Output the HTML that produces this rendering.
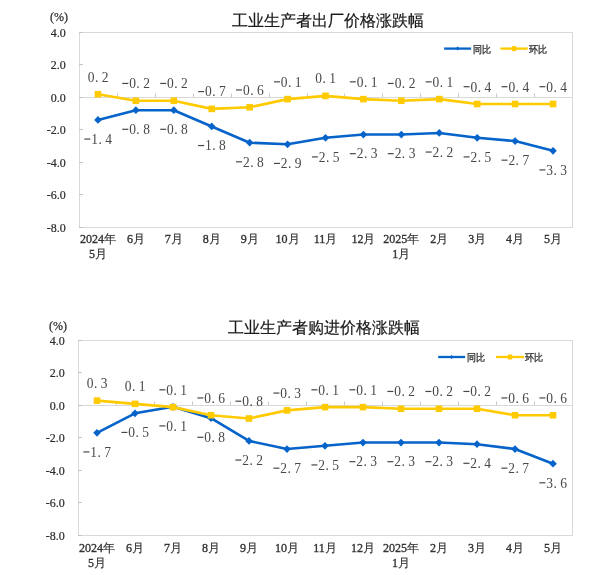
<!DOCTYPE html>
<html><head><meta charset="utf-8"><style>
html,body{margin:0;padding:0;background:#fff;}
svg{display:block;will-change:transform;}
.ax{font-family:"Liberation Serif",serif;font-size:12px;fill:#2a2a2a;stroke:#2a2a2a;stroke-width:0.2px;}
.xl{font-family:"Liberation Serif",serif;font-size:12px;font-weight:normal;fill:#333;stroke:#333;stroke-width:0.35px;}
.tt{font-family:"Liberation Sans",sans-serif;font-size:16px;fill:#1a1a1a;stroke:#1a1a1a;stroke-width:0.2px;}
.lg{font-family:"Liberation Sans",sans-serif;font-size:9.5px;fill:#333;stroke:#333;stroke-width:0.3px;}
.cj{font-weight:normal;stroke:#333;stroke-width:0.15px;}
.dl{font-family:"Liberation Serif",serif;font-size:13.5px;fill:#484848;}
</style></head><body>
<svg width="612" height="575" viewBox="0 0 612 575">
<rect width="612" height="575" fill="#fff"/>
<rect x="79.5" y="32.5" width="493" height="195" fill="none" stroke="#D9D9D9" stroke-width="1"/>
<line x1="79" y1="97.5" x2="572" y2="97.5" stroke="#D9D9D9" stroke-width="1"/>
<line x1="79" y1="32.5" x2="83" y2="32.5" stroke="#C4C4C4" stroke-width="1"/>
<text x="65.80" y="36.50" class="ax" text-anchor="end">4.0</text>
<line x1="79" y1="64.5" x2="83" y2="64.5" stroke="#C4C4C4" stroke-width="1"/>
<text x="65.80" y="69.00" class="ax" text-anchor="end">2.0</text>
<line x1="79" y1="97.5" x2="83" y2="97.5" stroke="#C4C4C4" stroke-width="1"/>
<text x="65.80" y="101.50" class="ax" text-anchor="end">0.0</text>
<line x1="79" y1="129.5" x2="83" y2="129.5" stroke="#C4C4C4" stroke-width="1"/>
<text x="65.80" y="134.00" class="ax" text-anchor="end">-2.0</text>
<line x1="79" y1="162.5" x2="83" y2="162.5" stroke="#C4C4C4" stroke-width="1"/>
<text x="65.80" y="166.50" class="ax" text-anchor="end">-4.0</text>
<line x1="79" y1="194.5" x2="83" y2="194.5" stroke="#C4C4C4" stroke-width="1"/>
<text x="65.80" y="199.00" class="ax" text-anchor="end">-6.0</text>
<line x1="79" y1="227.5" x2="83" y2="227.5" stroke="#C4C4C4" stroke-width="1"/>
<text x="65.80" y="231.50" class="ax" text-anchor="end">-8.0</text>
<line x1="117.5" y1="93.5" x2="117.5" y2="97.0" stroke="#C8C8C8" stroke-width="1"/>
<line x1="155.5" y1="93.5" x2="155.5" y2="97.0" stroke="#C8C8C8" stroke-width="1"/>
<line x1="193.5" y1="93.5" x2="193.5" y2="97.0" stroke="#C8C8C8" stroke-width="1"/>
<line x1="231.5" y1="93.5" x2="231.5" y2="97.0" stroke="#C8C8C8" stroke-width="1"/>
<line x1="269.5" y1="93.5" x2="269.5" y2="97.0" stroke="#C8C8C8" stroke-width="1"/>
<line x1="307.5" y1="93.5" x2="307.5" y2="97.0" stroke="#C8C8C8" stroke-width="1"/>
<line x1="344.5" y1="93.5" x2="344.5" y2="97.0" stroke="#C8C8C8" stroke-width="1"/>
<line x1="382.5" y1="93.5" x2="382.5" y2="97.0" stroke="#C8C8C8" stroke-width="1"/>
<line x1="420.5" y1="93.5" x2="420.5" y2="97.0" stroke="#C8C8C8" stroke-width="1"/>
<line x1="458.5" y1="93.5" x2="458.5" y2="97.0" stroke="#C8C8C8" stroke-width="1"/>
<line x1="496.5" y1="93.5" x2="496.5" y2="97.0" stroke="#C8C8C8" stroke-width="1"/>
<line x1="534.5" y1="93.5" x2="534.5" y2="97.0" stroke="#C8C8C8" stroke-width="1"/>
<text x="97.96" y="243.30" class="xl" text-anchor="middle">2024<tspan class="cj">年</tspan></text>
<text x="97.96" y="258.30" class="xl" text-anchor="middle">5<tspan class="cj">月</tspan></text>
<text x="135.88" y="243.30" class="xl" text-anchor="middle">6<tspan class="cj">月</tspan></text>
<text x="173.81" y="243.30" class="xl" text-anchor="middle">7<tspan class="cj">月</tspan></text>
<text x="211.73" y="243.30" class="xl" text-anchor="middle">8<tspan class="cj">月</tspan></text>
<text x="249.65" y="243.30" class="xl" text-anchor="middle">9<tspan class="cj">月</tspan></text>
<text x="287.58" y="243.30" class="xl" text-anchor="middle">10<tspan class="cj">月</tspan></text>
<text x="325.50" y="243.30" class="xl" text-anchor="middle">11<tspan class="cj">月</tspan></text>
<text x="363.42" y="243.30" class="xl" text-anchor="middle">12<tspan class="cj">月</tspan></text>
<text x="401.35" y="243.30" class="xl" text-anchor="middle">2025<tspan class="cj">年</tspan></text>
<text x="401.35" y="258.30" class="xl" text-anchor="middle">1<tspan class="cj">月</tspan></text>
<text x="439.27" y="243.30" class="xl" text-anchor="middle">2<tspan class="cj">月</tspan></text>
<text x="477.19" y="243.30" class="xl" text-anchor="middle">3<tspan class="cj">月</tspan></text>
<text x="515.12" y="243.30" class="xl" text-anchor="middle">4<tspan class="cj">月</tspan></text>
<text x="553.04" y="243.30" class="xl" text-anchor="middle">5<tspan class="cj">月</tspan></text>
<text x="327.9" y="26" class="tt" text-anchor="middle">工业生产者出厂价格涨跌幅</text>
<text x="59" y="21" class="ax" style="stroke:#333;stroke-width:0.25px" text-anchor="middle">(%)</text>
<line x1="444.1" y1="48.6" x2="471.1" y2="48.6" stroke="#0563C9" stroke-width="2.3"/>
<path d="M455.6,48.6 L457.6,46.6 L459.6,48.6 L457.6,50.6Z" fill="#0563C9"/>
<text transform="translate(472.7,52.5) scale(0.95,1.05)" class="lg">同比</text>
<line x1="500.4" y1="48.6" x2="527.7" y2="48.6" stroke="#FFCA00" stroke-width="2.3"/>
<rect x="511.84999999999997" y="46.1" width="4.4" height="5" fill="#FFCA00"/>
<text transform="translate(528.8,52.5) scale(0.95,1.05)" class="lg">环比</text>
<polyline points="97.96,119.95 135.88,110.20 173.81,110.20 211.73,126.45 249.65,142.70 287.58,144.32 325.50,137.82 363.42,134.57 401.35,134.57 439.27,132.95 477.19,137.82 515.12,141.07 553.04,150.82" fill="none" stroke="#0563C9" stroke-width="2.6" stroke-linejoin="round"/>
<path d="M94.16,119.95 L97.96,116.05 L101.76,119.95 L97.96,123.85Z" fill="#0563C9"/>
<path d="M132.08,110.20 L135.88,106.30 L139.68,110.20 L135.88,114.10Z" fill="#0563C9"/>
<path d="M170.01,110.20 L173.81,106.30 L177.61,110.20 L173.81,114.10Z" fill="#0563C9"/>
<path d="M207.93,126.45 L211.73,122.55 L215.53,126.45 L211.73,130.35Z" fill="#0563C9"/>
<path d="M245.85,142.70 L249.65,138.80 L253.45,142.70 L249.65,146.60Z" fill="#0563C9"/>
<path d="M283.78,144.32 L287.58,140.42 L291.38,144.32 L287.58,148.22Z" fill="#0563C9"/>
<path d="M321.70,137.82 L325.50,133.92 L329.30,137.82 L325.50,141.72Z" fill="#0563C9"/>
<path d="M359.62,134.57 L363.42,130.67 L367.22,134.57 L363.42,138.47Z" fill="#0563C9"/>
<path d="M397.55,134.57 L401.35,130.67 L405.15,134.57 L401.35,138.47Z" fill="#0563C9"/>
<path d="M435.47,132.95 L439.27,129.05 L443.07,132.95 L439.27,136.85Z" fill="#0563C9"/>
<path d="M473.39,137.82 L477.19,133.92 L480.99,137.82 L477.19,141.72Z" fill="#0563C9"/>
<path d="M511.32,141.07 L515.12,137.17 L518.92,141.07 L515.12,144.97Z" fill="#0563C9"/>
<path d="M549.24,150.82 L553.04,146.92 L556.84,150.82 L553.04,154.72Z" fill="#0563C9"/>
<polyline points="97.96,94.25 135.88,100.75 173.81,100.75 211.73,108.88 249.65,107.25 287.58,99.12 325.50,95.88 363.42,99.12 401.35,100.75 439.27,99.12 477.19,104.00 515.12,104.00 553.04,104.00" fill="none" stroke="#FFCA00" stroke-width="2.6" stroke-linejoin="round"/>
<rect x="94.66" y="90.95" width="6.6" height="6.6" fill="#FFCA00"/>
<rect x="132.58" y="97.45" width="6.6" height="6.6" fill="#FFCA00"/>
<rect x="170.51" y="97.45" width="6.6" height="6.6" fill="#FFCA00"/>
<rect x="208.43" y="105.58" width="6.6" height="6.6" fill="#FFCA00"/>
<rect x="246.35" y="103.95" width="6.6" height="6.6" fill="#FFCA00"/>
<rect x="284.28" y="95.83" width="6.6" height="6.6" fill="#FFCA00"/>
<rect x="322.20" y="92.58" width="6.6" height="6.6" fill="#FFCA00"/>
<rect x="360.12" y="95.83" width="6.6" height="6.6" fill="#FFCA00"/>
<rect x="398.05" y="97.45" width="6.6" height="6.6" fill="#FFCA00"/>
<rect x="435.97" y="95.83" width="6.6" height="6.6" fill="#FFCA00"/>
<rect x="473.89" y="100.70" width="6.6" height="6.6" fill="#FFCA00"/>
<rect x="511.82" y="100.70" width="6.6" height="6.6" fill="#FFCA00"/>
<rect x="549.74" y="100.70" width="6.6" height="6.6" fill="#FFCA00"/>
<text transform="translate(87.46,81.75) scale(1,1.02)" x="0.30 7.50 14.30" y="0" class="dl">0.2</text>
<line x1="122.28" y1="83.45" x2="128.28" y2="83.45" stroke="#484848" stroke-width="1.2"/>
<text transform="translate(121.88,88.25) scale(1,1.02)" x="7.30 14.50 21.30" y="0" class="dl">0.2</text>
<line x1="160.21" y1="83.45" x2="166.21" y2="83.45" stroke="#484848" stroke-width="1.2"/>
<text transform="translate(159.81,88.25) scale(1,1.02)" x="7.30 14.50 21.30" y="0" class="dl">0.2</text>
<line x1="198.13" y1="91.58" x2="204.13" y2="91.58" stroke="#484848" stroke-width="1.2"/>
<text transform="translate(197.73,96.38) scale(1,1.02)" x="7.30 14.50 21.30" y="0" class="dl">0.7</text>
<line x1="236.05" y1="89.95" x2="242.05" y2="89.95" stroke="#484848" stroke-width="1.2"/>
<text transform="translate(235.65,94.75) scale(1,1.02)" x="7.30 14.50 21.30" y="0" class="dl">0.6</text>
<line x1="273.98" y1="81.83" x2="279.98" y2="81.83" stroke="#484848" stroke-width="1.2"/>
<text transform="translate(273.58,86.62) scale(1,1.02)" x="7.30 14.50 21.30" y="0" class="dl">0.1</text>
<text transform="translate(315.00,83.38) scale(1,1.02)" x="0.30 7.50 14.30" y="0" class="dl">0.1</text>
<line x1="349.82" y1="81.83" x2="355.82" y2="81.83" stroke="#484848" stroke-width="1.2"/>
<text transform="translate(349.42,86.62) scale(1,1.02)" x="7.30 14.50 21.30" y="0" class="dl">0.1</text>
<line x1="387.75" y1="83.45" x2="393.75" y2="83.45" stroke="#484848" stroke-width="1.2"/>
<text transform="translate(387.35,88.25) scale(1,1.02)" x="7.30 14.50 21.30" y="0" class="dl">0.2</text>
<line x1="425.67" y1="81.83" x2="431.67" y2="81.83" stroke="#484848" stroke-width="1.2"/>
<text transform="translate(425.27,86.62) scale(1,1.02)" x="7.30 14.50 21.30" y="0" class="dl">0.1</text>
<line x1="463.59" y1="86.70" x2="469.59" y2="86.70" stroke="#484848" stroke-width="1.2"/>
<text transform="translate(463.19,91.50) scale(1,1.02)" x="7.30 14.50 21.30" y="0" class="dl">0.4</text>
<line x1="501.52" y1="86.70" x2="507.52" y2="86.70" stroke="#484848" stroke-width="1.2"/>
<text transform="translate(501.12,91.50) scale(1,1.02)" x="7.30 14.50 21.30" y="0" class="dl">0.4</text>
<line x1="539.44" y1="86.70" x2="545.44" y2="86.70" stroke="#484848" stroke-width="1.2"/>
<text transform="translate(539.04,91.50) scale(1,1.02)" x="7.30 14.50 21.30" y="0" class="dl">0.4</text>
<line x1="84.36" y1="139.05" x2="90.36" y2="139.05" stroke="#484848" stroke-width="1.2"/>
<text transform="translate(83.96,143.85) scale(1,1.02)" x="7.30 14.50 21.30" y="0" class="dl">1.4</text>
<line x1="122.28" y1="129.30" x2="128.28" y2="129.30" stroke="#484848" stroke-width="1.2"/>
<text transform="translate(121.88,134.10) scale(1,1.02)" x="7.30 14.50 21.30" y="0" class="dl">0.8</text>
<line x1="160.21" y1="129.30" x2="166.21" y2="129.30" stroke="#484848" stroke-width="1.2"/>
<text transform="translate(159.81,134.10) scale(1,1.02)" x="7.30 14.50 21.30" y="0" class="dl">0.8</text>
<line x1="198.13" y1="145.55" x2="204.13" y2="145.55" stroke="#484848" stroke-width="1.2"/>
<text transform="translate(197.73,150.35) scale(1,1.02)" x="7.30 14.50 21.30" y="0" class="dl">1.8</text>
<line x1="236.05" y1="161.80" x2="242.05" y2="161.80" stroke="#484848" stroke-width="1.2"/>
<text transform="translate(235.65,166.60) scale(1,1.02)" x="7.30 14.50 21.30" y="0" class="dl">2.8</text>
<line x1="273.98" y1="163.42" x2="279.98" y2="163.42" stroke="#484848" stroke-width="1.2"/>
<text transform="translate(273.58,168.22) scale(1,1.02)" x="7.30 14.50 21.30" y="0" class="dl">2.9</text>
<line x1="311.90" y1="156.92" x2="317.90" y2="156.92" stroke="#484848" stroke-width="1.2"/>
<text transform="translate(311.50,161.72) scale(1,1.02)" x="7.30 14.50 21.30" y="0" class="dl">2.5</text>
<line x1="349.82" y1="153.67" x2="355.82" y2="153.67" stroke="#484848" stroke-width="1.2"/>
<text transform="translate(349.42,158.47) scale(1,1.02)" x="7.30 14.50 21.30" y="0" class="dl">2.3</text>
<line x1="387.75" y1="153.67" x2="393.75" y2="153.67" stroke="#484848" stroke-width="1.2"/>
<text transform="translate(387.35,158.47) scale(1,1.02)" x="7.30 14.50 21.30" y="0" class="dl">2.3</text>
<line x1="425.67" y1="152.05" x2="431.67" y2="152.05" stroke="#484848" stroke-width="1.2"/>
<text transform="translate(425.27,156.85) scale(1,1.02)" x="7.30 14.50 21.30" y="0" class="dl">2.2</text>
<line x1="463.59" y1="156.92" x2="469.59" y2="156.92" stroke="#484848" stroke-width="1.2"/>
<text transform="translate(463.19,161.72) scale(1,1.02)" x="7.30 14.50 21.30" y="0" class="dl">2.5</text>
<line x1="501.52" y1="160.17" x2="507.52" y2="160.17" stroke="#484848" stroke-width="1.2"/>
<text transform="translate(501.12,164.97) scale(1,1.02)" x="7.30 14.50 21.30" y="0" class="dl">2.7</text>
<line x1="539.44" y1="169.92" x2="545.44" y2="169.92" stroke="#484848" stroke-width="1.2"/>
<text transform="translate(539.04,174.72) scale(1,1.02)" x="7.30 14.50 21.30" y="0" class="dl">3.3</text>
<rect x="78.5" y="340.5" width="494" height="195" fill="none" stroke="#D9D9D9" stroke-width="1"/>
<line x1="78" y1="405.5" x2="572" y2="405.5" stroke="#D9D9D9" stroke-width="1"/>
<line x1="78" y1="340.5" x2="82" y2="340.5" stroke="#C4C4C4" stroke-width="1"/>
<text x="64.80" y="344.50" class="ax" text-anchor="end">4.0</text>
<line x1="78" y1="372.5" x2="82" y2="372.5" stroke="#C4C4C4" stroke-width="1"/>
<text x="64.80" y="377.00" class="ax" text-anchor="end">2.0</text>
<line x1="78" y1="405.5" x2="82" y2="405.5" stroke="#C4C4C4" stroke-width="1"/>
<text x="64.80" y="409.50" class="ax" text-anchor="end">0.0</text>
<line x1="78" y1="437.5" x2="82" y2="437.5" stroke="#C4C4C4" stroke-width="1"/>
<text x="64.80" y="442.00" class="ax" text-anchor="end">-2.0</text>
<line x1="78" y1="470.5" x2="82" y2="470.5" stroke="#C4C4C4" stroke-width="1"/>
<text x="64.80" y="474.50" class="ax" text-anchor="end">-4.0</text>
<line x1="78" y1="502.5" x2="82" y2="502.5" stroke="#C4C4C4" stroke-width="1"/>
<text x="64.80" y="507.00" class="ax" text-anchor="end">-6.0</text>
<line x1="78" y1="535.5" x2="82" y2="535.5" stroke="#C4C4C4" stroke-width="1"/>
<text x="64.80" y="539.50" class="ax" text-anchor="end">-8.0</text>
<line x1="116.5" y1="401.5" x2="116.5" y2="405.0" stroke="#C8C8C8" stroke-width="1"/>
<line x1="154.5" y1="401.5" x2="154.5" y2="405.0" stroke="#C8C8C8" stroke-width="1"/>
<line x1="192.5" y1="401.5" x2="192.5" y2="405.0" stroke="#C8C8C8" stroke-width="1"/>
<line x1="230.5" y1="401.5" x2="230.5" y2="405.0" stroke="#C8C8C8" stroke-width="1"/>
<line x1="268.5" y1="401.5" x2="268.5" y2="405.0" stroke="#C8C8C8" stroke-width="1"/>
<line x1="306.5" y1="401.5" x2="306.5" y2="405.0" stroke="#C8C8C8" stroke-width="1"/>
<line x1="344.5" y1="401.5" x2="344.5" y2="405.0" stroke="#C8C8C8" stroke-width="1"/>
<line x1="382.5" y1="401.5" x2="382.5" y2="405.0" stroke="#C8C8C8" stroke-width="1"/>
<line x1="420.5" y1="401.5" x2="420.5" y2="405.0" stroke="#C8C8C8" stroke-width="1"/>
<line x1="458.5" y1="401.5" x2="458.5" y2="405.0" stroke="#C8C8C8" stroke-width="1"/>
<line x1="496.5" y1="401.5" x2="496.5" y2="405.0" stroke="#C8C8C8" stroke-width="1"/>
<line x1="534.5" y1="401.5" x2="534.5" y2="405.0" stroke="#C8C8C8" stroke-width="1"/>
<text x="97.00" y="552.30" class="xl" text-anchor="middle">2024<tspan class="cj">年</tspan></text>
<text x="97.00" y="567.30" class="xl" text-anchor="middle">5<tspan class="cj">月</tspan></text>
<text x="135.00" y="552.30" class="xl" text-anchor="middle">6<tspan class="cj">月</tspan></text>
<text x="173.00" y="552.30" class="xl" text-anchor="middle">7<tspan class="cj">月</tspan></text>
<text x="211.00" y="552.30" class="xl" text-anchor="middle">8<tspan class="cj">月</tspan></text>
<text x="249.00" y="552.30" class="xl" text-anchor="middle">9<tspan class="cj">月</tspan></text>
<text x="287.00" y="552.30" class="xl" text-anchor="middle">10<tspan class="cj">月</tspan></text>
<text x="325.00" y="552.30" class="xl" text-anchor="middle">11<tspan class="cj">月</tspan></text>
<text x="363.00" y="552.30" class="xl" text-anchor="middle">12<tspan class="cj">月</tspan></text>
<text x="401.00" y="552.30" class="xl" text-anchor="middle">2025<tspan class="cj">年</tspan></text>
<text x="401.00" y="567.30" class="xl" text-anchor="middle">1<tspan class="cj">月</tspan></text>
<text x="439.00" y="552.30" class="xl" text-anchor="middle">2<tspan class="cj">月</tspan></text>
<text x="477.00" y="552.30" class="xl" text-anchor="middle">3<tspan class="cj">月</tspan></text>
<text x="515.00" y="552.30" class="xl" text-anchor="middle">4<tspan class="cj">月</tspan></text>
<text x="553.00" y="552.30" class="xl" text-anchor="middle">5<tspan class="cj">月</tspan></text>
<text x="323.8" y="332.6" class="tt" text-anchor="middle">工业生产者购进价格涨跌幅</text>
<text x="58" y="329.8" class="ax" style="stroke:#333;stroke-width:0.25px" text-anchor="middle">(%)</text>
<line x1="438.2" y1="357" x2="465.1" y2="357" stroke="#0563C9" stroke-width="2.3"/>
<path d="M449.65,357 L451.65,355 L453.65,357 L451.65,359Z" fill="#0563C9"/>
<text transform="translate(466.7,360.9) scale(0.95,1.05)" class="lg">同比</text>
<line x1="495.9" y1="357" x2="524.1" y2="357" stroke="#FFCA00" stroke-width="2.3"/>
<rect x="507.8" y="354.5" width="4.4" height="5" fill="#FFCA00"/>
<text transform="translate(524.5,360.9) scale(0.95,1.05)" class="lg">环比</text>
<polyline points="97.00,432.82 135.00,413.32 173.00,406.82 211.00,418.20 249.00,440.95 287.00,449.07 325.00,445.82 363.00,442.57 401.00,442.57 439.00,442.57 477.00,444.20 515.00,449.07 553.00,463.70" fill="none" stroke="#0563C9" stroke-width="2.6" stroke-linejoin="round"/>
<path d="M93.20,432.82 L97.00,428.93 L100.80,432.82 L97.00,436.72Z" fill="#0563C9"/>
<path d="M131.20,413.32 L135.00,409.43 L138.80,413.32 L135.00,417.22Z" fill="#0563C9"/>
<path d="M169.20,406.82 L173.00,402.93 L176.80,406.82 L173.00,410.72Z" fill="#0563C9"/>
<path d="M207.20,418.20 L211.00,414.30 L214.80,418.20 L211.00,422.10Z" fill="#0563C9"/>
<path d="M245.20,440.95 L249.00,437.05 L252.80,440.95 L249.00,444.85Z" fill="#0563C9"/>
<path d="M283.20,449.07 L287.00,445.18 L290.80,449.07 L287.00,452.97Z" fill="#0563C9"/>
<path d="M321.20,445.82 L325.00,441.93 L328.80,445.82 L325.00,449.72Z" fill="#0563C9"/>
<path d="M359.20,442.57 L363.00,438.68 L366.80,442.57 L363.00,446.47Z" fill="#0563C9"/>
<path d="M397.20,442.57 L401.00,438.68 L404.80,442.57 L401.00,446.47Z" fill="#0563C9"/>
<path d="M435.20,442.57 L439.00,438.68 L442.80,442.57 L439.00,446.47Z" fill="#0563C9"/>
<path d="M473.20,444.20 L477.00,440.30 L480.80,444.20 L477.00,448.10Z" fill="#0563C9"/>
<path d="M511.20,449.07 L515.00,445.18 L518.80,449.07 L515.00,452.97Z" fill="#0563C9"/>
<path d="M549.20,463.70 L553.00,459.80 L556.80,463.70 L553.00,467.60Z" fill="#0563C9"/>
<polyline points="97.00,400.62 135.00,403.88 173.00,407.12 211.00,415.25 249.00,418.50 287.00,410.38 325.00,407.12 363.00,407.12 401.00,408.75 439.00,408.75 477.00,408.75 515.00,415.25 553.00,415.25" fill="none" stroke="#FFCA00" stroke-width="2.6" stroke-linejoin="round"/>
<rect x="93.70" y="397.32" width="6.6" height="6.6" fill="#FFCA00"/>
<rect x="131.70" y="400.57" width="6.6" height="6.6" fill="#FFCA00"/>
<rect x="169.70" y="403.82" width="6.6" height="6.6" fill="#FFCA00"/>
<rect x="207.70" y="411.95" width="6.6" height="6.6" fill="#FFCA00"/>
<rect x="245.70" y="415.20" width="6.6" height="6.6" fill="#FFCA00"/>
<rect x="283.70" y="407.07" width="6.6" height="6.6" fill="#FFCA00"/>
<rect x="321.70" y="403.82" width="6.6" height="6.6" fill="#FFCA00"/>
<rect x="359.70" y="403.82" width="6.6" height="6.6" fill="#FFCA00"/>
<rect x="397.70" y="405.45" width="6.6" height="6.6" fill="#FFCA00"/>
<rect x="435.70" y="405.45" width="6.6" height="6.6" fill="#FFCA00"/>
<rect x="473.70" y="405.45" width="6.6" height="6.6" fill="#FFCA00"/>
<rect x="511.70" y="411.95" width="6.6" height="6.6" fill="#FFCA00"/>
<rect x="549.70" y="411.95" width="6.6" height="6.6" fill="#FFCA00"/>
<text transform="translate(86.50,388.12) scale(1,1.02)" x="0.30 7.50 14.30" y="0" class="dl">0.3</text>
<text transform="translate(124.50,391.38) scale(1,1.02)" x="0.30 7.50 14.30" y="0" class="dl">0.1</text>
<line x1="159.40" y1="389.82" x2="165.40" y2="389.82" stroke="#484848" stroke-width="1.2"/>
<text transform="translate(159.00,394.62) scale(1,1.02)" x="7.30 14.50 21.30" y="0" class="dl">0.1</text>
<line x1="197.40" y1="397.95" x2="203.40" y2="397.95" stroke="#484848" stroke-width="1.2"/>
<text transform="translate(197.00,402.75) scale(1,1.02)" x="7.30 14.50 21.30" y="0" class="dl">0.6</text>
<line x1="235.40" y1="401.20" x2="241.40" y2="401.20" stroke="#484848" stroke-width="1.2"/>
<text transform="translate(235.00,406.00) scale(1,1.02)" x="7.30 14.50 21.30" y="0" class="dl">0.8</text>
<line x1="273.40" y1="393.07" x2="279.40" y2="393.07" stroke="#484848" stroke-width="1.2"/>
<text transform="translate(273.00,397.88) scale(1,1.02)" x="7.30 14.50 21.30" y="0" class="dl">0.3</text>
<line x1="311.40" y1="389.82" x2="317.40" y2="389.82" stroke="#484848" stroke-width="1.2"/>
<text transform="translate(311.00,394.62) scale(1,1.02)" x="7.30 14.50 21.30" y="0" class="dl">0.1</text>
<line x1="349.40" y1="389.82" x2="355.40" y2="389.82" stroke="#484848" stroke-width="1.2"/>
<text transform="translate(349.00,394.62) scale(1,1.02)" x="7.30 14.50 21.30" y="0" class="dl">0.1</text>
<line x1="387.40" y1="391.45" x2="393.40" y2="391.45" stroke="#484848" stroke-width="1.2"/>
<text transform="translate(387.00,396.25) scale(1,1.02)" x="7.30 14.50 21.30" y="0" class="dl">0.2</text>
<line x1="425.40" y1="391.45" x2="431.40" y2="391.45" stroke="#484848" stroke-width="1.2"/>
<text transform="translate(425.00,396.25) scale(1,1.02)" x="7.30 14.50 21.30" y="0" class="dl">0.2</text>
<line x1="463.40" y1="391.45" x2="469.40" y2="391.45" stroke="#484848" stroke-width="1.2"/>
<text transform="translate(463.00,396.25) scale(1,1.02)" x="7.30 14.50 21.30" y="0" class="dl">0.2</text>
<line x1="501.40" y1="397.95" x2="507.40" y2="397.95" stroke="#484848" stroke-width="1.2"/>
<text transform="translate(501.00,402.75) scale(1,1.02)" x="7.30 14.50 21.30" y="0" class="dl">0.6</text>
<line x1="539.40" y1="397.95" x2="545.40" y2="397.95" stroke="#484848" stroke-width="1.2"/>
<text transform="translate(539.00,402.75) scale(1,1.02)" x="7.30 14.50 21.30" y="0" class="dl">0.6</text>
<line x1="83.40" y1="451.93" x2="89.40" y2="451.93" stroke="#484848" stroke-width="1.2"/>
<text transform="translate(83.00,456.73) scale(1,1.02)" x="7.30 14.50 21.30" y="0" class="dl">1.7</text>
<line x1="121.40" y1="432.43" x2="127.40" y2="432.43" stroke="#484848" stroke-width="1.2"/>
<text transform="translate(121.00,437.23) scale(1,1.02)" x="7.30 14.50 21.30" y="0" class="dl">0.5</text>
<line x1="159.40" y1="425.93" x2="165.40" y2="425.93" stroke="#484848" stroke-width="1.2"/>
<text transform="translate(159.00,430.73) scale(1,1.02)" x="7.30 14.50 21.30" y="0" class="dl">0.1</text>
<line x1="197.40" y1="437.30" x2="203.40" y2="437.30" stroke="#484848" stroke-width="1.2"/>
<text transform="translate(197.00,442.10) scale(1,1.02)" x="7.30 14.50 21.30" y="0" class="dl">0.8</text>
<line x1="235.40" y1="460.05" x2="241.40" y2="460.05" stroke="#484848" stroke-width="1.2"/>
<text transform="translate(235.00,464.85) scale(1,1.02)" x="7.30 14.50 21.30" y="0" class="dl">2.2</text>
<line x1="273.40" y1="468.18" x2="279.40" y2="468.18" stroke="#484848" stroke-width="1.2"/>
<text transform="translate(273.00,472.98) scale(1,1.02)" x="7.30 14.50 21.30" y="0" class="dl">2.7</text>
<line x1="311.40" y1="464.93" x2="317.40" y2="464.93" stroke="#484848" stroke-width="1.2"/>
<text transform="translate(311.00,469.73) scale(1,1.02)" x="7.30 14.50 21.30" y="0" class="dl">2.5</text>
<line x1="349.40" y1="461.68" x2="355.40" y2="461.68" stroke="#484848" stroke-width="1.2"/>
<text transform="translate(349.00,466.48) scale(1,1.02)" x="7.30 14.50 21.30" y="0" class="dl">2.3</text>
<line x1="387.40" y1="461.68" x2="393.40" y2="461.68" stroke="#484848" stroke-width="1.2"/>
<text transform="translate(387.00,466.48) scale(1,1.02)" x="7.30 14.50 21.30" y="0" class="dl">2.3</text>
<line x1="425.40" y1="461.68" x2="431.40" y2="461.68" stroke="#484848" stroke-width="1.2"/>
<text transform="translate(425.00,466.48) scale(1,1.02)" x="7.30 14.50 21.30" y="0" class="dl">2.3</text>
<line x1="463.40" y1="463.30" x2="469.40" y2="463.30" stroke="#484848" stroke-width="1.2"/>
<text transform="translate(463.00,468.10) scale(1,1.02)" x="7.30 14.50 21.30" y="0" class="dl">2.4</text>
<line x1="501.40" y1="468.18" x2="507.40" y2="468.18" stroke="#484848" stroke-width="1.2"/>
<text transform="translate(501.00,472.98) scale(1,1.02)" x="7.30 14.50 21.30" y="0" class="dl">2.7</text>
<line x1="539.40" y1="482.80" x2="545.40" y2="482.80" stroke="#484848" stroke-width="1.2"/>
<text transform="translate(539.00,487.60) scale(1,1.02)" x="7.30 14.50 21.30" y="0" class="dl">3.6</text>
</svg>
</body></html>
